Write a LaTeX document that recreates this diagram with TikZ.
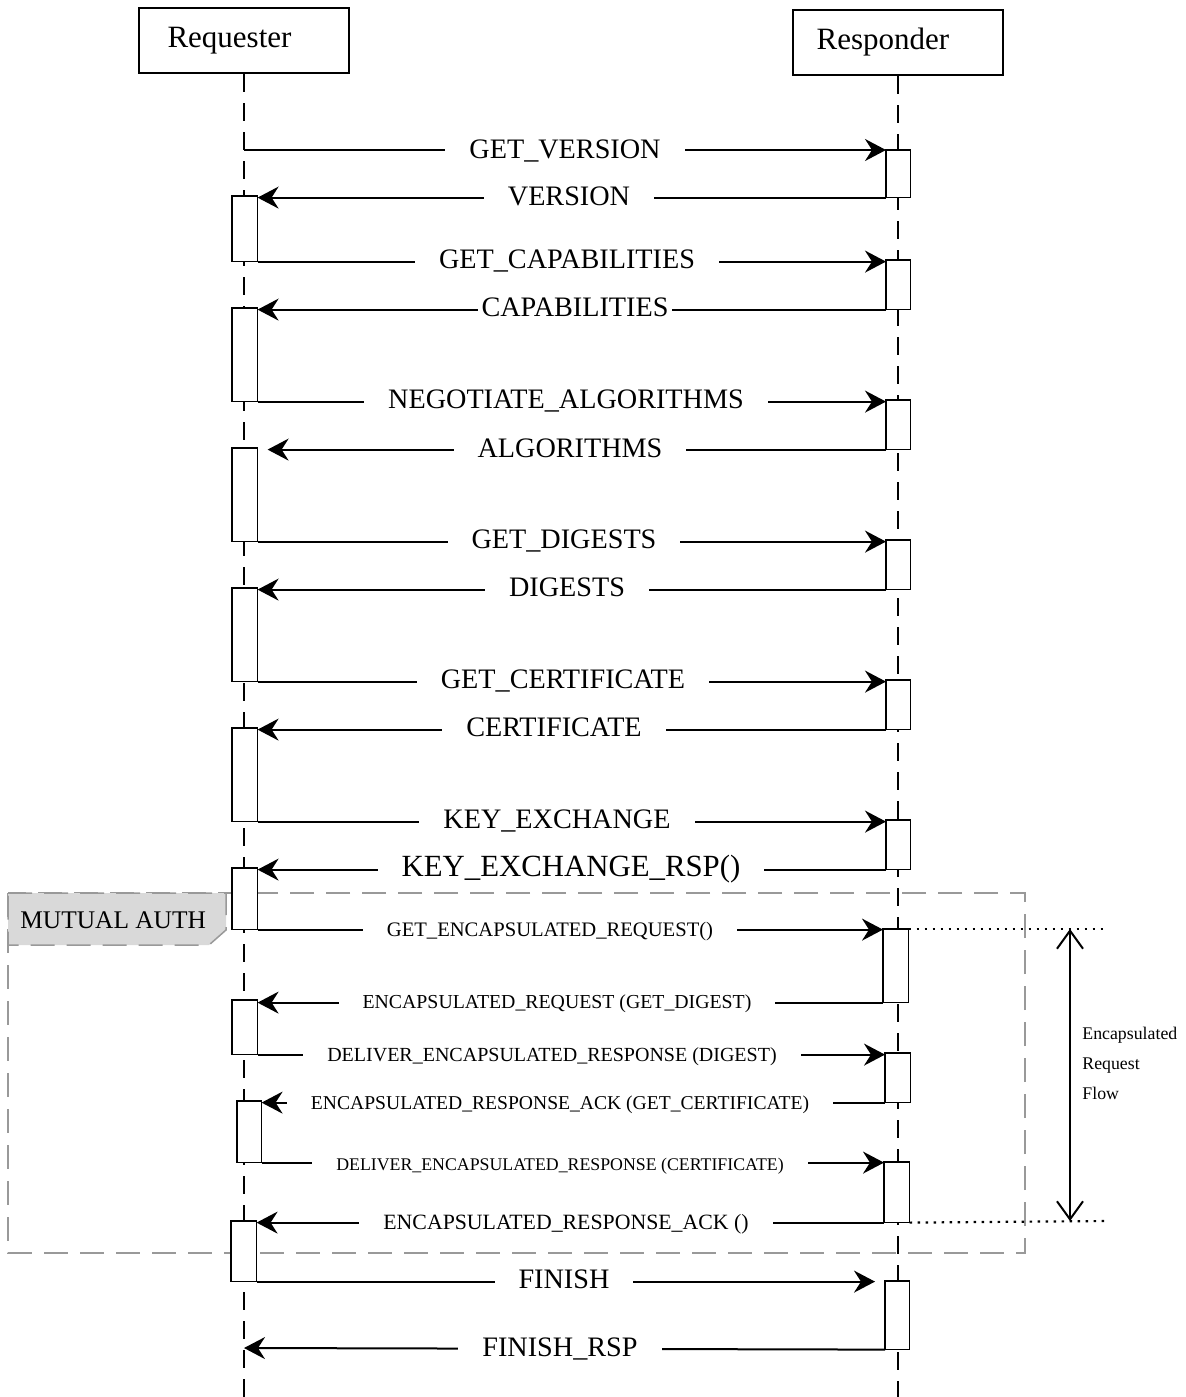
\documentclass[tikz,border=0pt]{standalone}
\usepackage{fontspec}
\setmainfont{Liberation Serif}
\usetikzlibrary{arrows.meta}
\begin{document}
\begin{tikzpicture}[x=0.5pt,y=-0.5pt,
  head/.style={draw, line width=1pt, minimum width=105pt, minimum height=32.5pt, inner sep=0pt, font=\fontsize{15.5}{18}\selectfont},
  life/.style={line width=1pt, dash pattern=on 9pt off 5.5pt},
  act/.style={draw, fill=white, line width=0.8pt, inner sep=0pt, anchor=north west, minimum width=11.5pt},
  msg/.style={line width=1pt, -{Stealth[length=10.5pt,width=11pt,inset=3.5pt]}},
  lbl/.style={fill=white, inner xsep=12pt, inner ysep=3pt, text height=0.66em, text depth=0pt, yshift=-1pt, font=\fontsize{14.1}{17}\selectfont},
  frame/.style={draw=black!40, line width=0.75pt, dash pattern=on 12pt off 6pt},
  flowarr/.style={line width=1pt, {Straight Barb[length=9pt,width=13pt]}-{Straight Barb[length=9pt,width=13pt]}},
  dots/.style={line width=1.1pt, dash pattern=on 1.3pt off 2.7pt}
]
\useasboundingbox (0,0) rectangle (1186,1397);

% MUTUAL AUTH frame
\draw[frame] (8,893) rectangle (1025,1253);
\filldraw[frame, fill=black!15] (8,893) -- (226,893) -- (226,930) -- (209,945) -- (8,945) -- cycle;
\node[anchor=west, inner sep=0pt, font=\fontsize{12.7}{15}\selectfont] (mut) at (20,920) {MUTUAL AUTH};

% heads
\node[head] (req) at (243.5,40.5) {\raisebox{-1.5pt}{Requester}\kern14pt};
\node[head] (resp) at (898,42.5) {\raisebox{-1.5pt}{Responder}\kern15pt};
\coordinate (reqend) at (244,1397);
\coordinate (respend) at (898,1397);
\draw[life] (req.south -| reqend) -- (reqend);
\draw[life] (resp.south) -- (respend);

% activation boxes
\node[act, minimum width=11.5pt, minimum height=23pt] (sA1) at (886,150) {};
\node[act, minimum width=12pt, minimum height=32pt] (rA1) at (232,196) {};
\node[act, minimum width=11.5pt, minimum height=24pt] (sA2) at (886,260) {};
\node[act, minimum width=12pt, minimum height=46pt] (rA2) at (232,308) {};
\node[act, minimum width=11.5pt, minimum height=24pt] (sA3) at (886,400) {};
\node[act, minimum width=12pt, minimum height=46pt] (rA3) at (232,448) {};
\node[act, minimum width=11.5pt, minimum height=24pt] (sA4) at (886,540) {};
\node[act, minimum width=12pt, minimum height=46pt] (rA4) at (232,588) {};
\node[act, minimum width=11.5pt, minimum height=24pt] (sA5) at (886,680) {};
\node[act, minimum width=12pt, minimum height=46pt] (rA5) at (232,728) {};
\node[act, minimum width=11.5pt, minimum height=24pt] (sA6) at (886,820) {};
\node[act, minimum width=12pt, minimum height=30pt] (rA6) at (232,868) {};
\node[act, minimum width=12pt, minimum height=36pt] (sA7) at (883,929) {};
\node[act, minimum width=12pt, minimum height=26.5pt] (rA7) at (232,1000) {};
\node[act, minimum width=12pt, minimum height=24pt] (sA8) at (885,1053) {};
\node[act, minimum width=11.5pt, minimum height=30pt] (rA8) at (237,1101) {};
\node[act, minimum width=12pt, minimum height=29.5pt] (sA9) at (884,1162) {};
\node[act, minimum width=12pt, minimum height=29.5pt] (rA9) at (231,1221) {};
\node[act, minimum width=11.5pt, minimum height=33.5pt] (sA10) at (885,1281) {};

\coordinate (start1) at (244,150);
\coordinate (end20) at (244,1348);

% messages
\draw[msg] (start1) -- (start1 -| sA1.west);
\draw[msg] (sA1.south west) -- (sA1.south west -| rA1.east);
\draw[msg] (rA1.south east) -- (rA1.south east -| sA2.west);
\draw[msg] (sA2.south west) -- (sA2.south west -| rA2.east);
\draw[msg] (rA2.south east) -- (rA2.south east -| sA3.west);
\draw[msg, shorten >=5pt] (sA3.south west) -- (sA3.south west -| rA3.east);
\draw[msg] (rA3.south east) -- (rA3.south east -| sA4.west);
\draw[msg] (sA4.south west) -- (sA4.south west -| rA4.east);
\draw[msg] (rA4.south east) -- (rA4.south east -| sA5.west);
\draw[msg] (sA5.south west) -- (sA5.south west -| rA5.east);
\draw[msg] (rA5.south east) -- (rA5.south east -| sA6.west);
\draw[msg] (sA6.south west) -- (sA6.south west -| rA6.east);
\draw[msg] (rA6.south east) -- (rA6.south east -| sA7.west);
\draw[msg] (sA7.south west) -- (sA7.south west -| rA7.east);
\draw[msg] (rA7.south east) -- (rA7.south east -| sA8.west);
\draw[msg] (sA8.south west) -- (sA8.south west -| rA8.east);
\draw[msg] (rA8.south east) -- (rA8.south east -| sA9.west);
\draw[msg] (sA9.south west) -- (sA9.south west -| rA9.east);
\draw[msg, shorten >=5pt] (rA9.south east) -- (rA9.south east -| sA10.west);
\draw[msg] (sA10.south west) -- (end20);

% redraw activation boxes on top
\foreach \b in {sA1,rA1,sA2,rA2,sA3,rA3,sA4,rA4,sA5,rA5,sA6,rA6,sA7,rA7,sA8,rA8,sA9,rA9,sA10}
  \draw[line width=0.8pt, fill=white] (\b.north west) rectangle (\b.south east);

% labels
\node[lbl] (l1) at (565,150) {GET\_VERSION};
\node[lbl] (l2) at (569,197) {VERSION};
\node[lbl] (l3) at (567,260) {GET\_CAPABILITIES};
\node[lbl, inner xsep=2pt] (l4) at (575,308) {CAPABILITIES};
\node[lbl] (l5) at (566,400) {NEGOTIATE\_ALGORITHMS};
\node[lbl] (l6) at (570,449) {ALGORITHMS};
\node[lbl] (l7) at (564,540) {GET\_DIGESTS};
\node[lbl] (l8) at (567,588) {DIGESTS};
\node[lbl] (l9) at (563,680) {GET\_CERTIFICATE};
\node[lbl] (l10) at (554,728) {CERTIFICATE};
\node[lbl] (l11) at (557,820) {KEY\_EXCHANGE};
\node[lbl, font=\fontsize{15.4}{18}\selectfont] (l12) at (571,868) {KEY\_EXCHANGE\_RSP()};
\node[lbl, font=\fontsize{10.3}{12}\selectfont] (l13) at (550,928) {GET\_ENCAPSULATED\_REQUEST()};
\node[lbl, font=\fontsize{9.9}{12}\selectfont] (l14) at (557,1000) {ENCAPSULATED\_REQUEST (GET\_DIGEST)};
\node[lbl, font=\fontsize{10}{12}\selectfont] (l15) at (552,1053) {DELIVER\_ENCAPSULATED\_RESPONSE (DIGEST)};
\node[lbl, font=\fontsize{9.8}{12}\selectfont] (l16) at (560,1101) {ENCAPSULATED\_RESPONSE\_ACK (GET\_CERTIFICATE)};
\node[lbl, font=\fontsize{8.9}{11}\selectfont] (l17) at (560,1162) {DELIVER\_ENCAPSULATED\_RESPONSE (CERTIFICATE)};
\node[lbl, font=\fontsize{10.9}{13}\selectfont] (l18) at (566,1221) {ENCAPSULATED\_RESPONSE\_ACK ()};
\node[lbl] (l19) at (564,1280) {FINISH};
\node[lbl] (l20) at (560,1348) {FINISH\_RSP};

% encapsulated request flow
\coordinate (dt) at (1108,929);
\coordinate (db) at (1108,1221);
\draw[dots] (sA7.north east) -- (dt);
\draw[dots] (sA9.south east) -- (db);
\coordinate (ft) at (1070,929);
\coordinate (fb) at (1070,1221);
\draw[flowarr] (ft) -- (fb);
\node[anchor=west, align=left, inner sep=0pt, font=\fontsize{8.9}{15}\selectfont] (flow) at (1082,1063) {Encapsulated\\Request\\Flow};
\end{tikzpicture}
\end{document}
